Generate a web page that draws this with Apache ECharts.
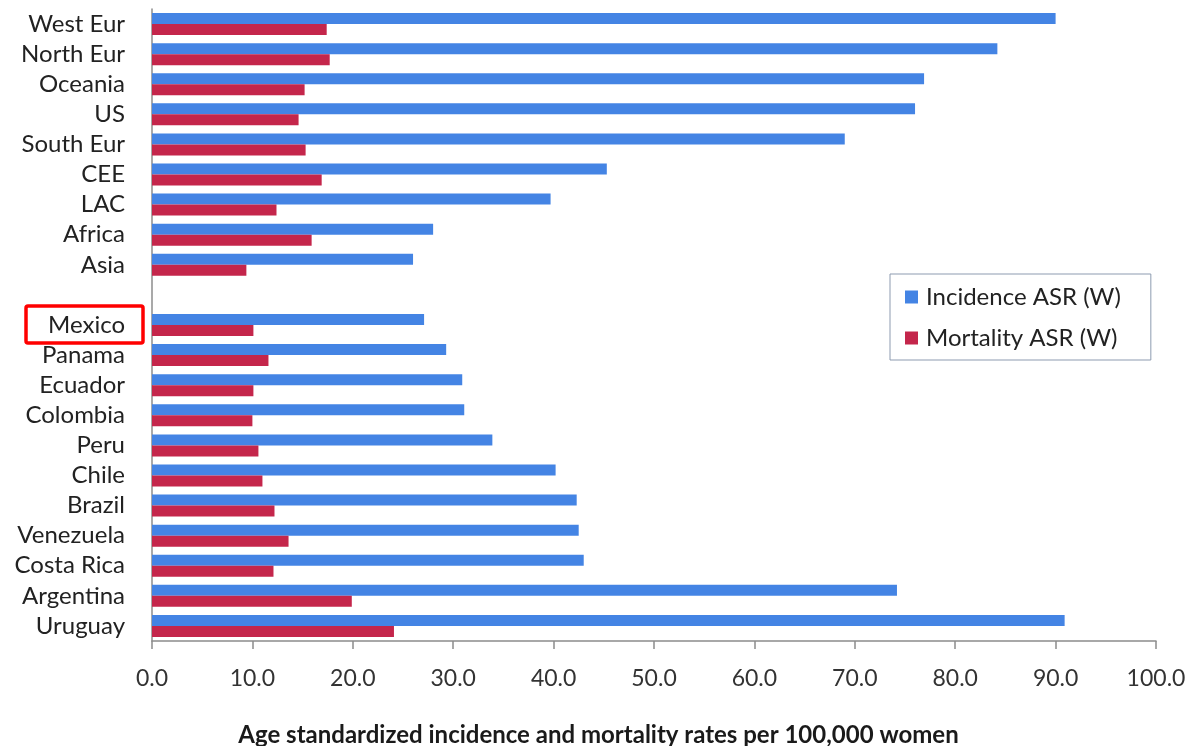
<!DOCTYPE html>
<html>
<head>
<meta charset="utf-8">
<script src="https://cdn.jsdelivr.net/npm/echarts@6/dist/echarts.min.js"></script>
<style>
  html, body { margin: 0; padding: 0; background: #ffffff; }
  #chart { width: 1197px; height: 746px; }
</style>
</head>
<body>
<div id="chart"></div>
<script>
// Regions / countries, top to bottom (blank row separates regions from countries)
const categories = [
  'West Eur', 'North Eur', 'Oceania', 'US', 'South Eur', 'CEE', 'LAC', 'Africa', 'Asia',
  '',
  'Mexico', 'Panama', 'Ecuador', 'Colombia', 'Peru', 'Chile', 'Brazil', 'Venezuela',
  'Costa Rica', 'Argentina', 'Uruguay'
];

// Age standardized incidence rate (world standard), per 100,000 women
const incidence = [
  90.0, 84.2, 76.9, 76.0, 69.0, 45.3, 39.7, 28.0, 26.0,
  null,
  27.1, 29.3, 30.9, 31.1, 33.9, 40.2, 42.3, 42.5, 43.0, 74.2, 90.9
];

// Age standardized mortality rate (world standard), per 100,000 women
const mortality = [
  17.4, 17.7, 15.2, 14.6, 15.3, 16.9, 12.4, 15.9, 9.4,
  null,
  10.1, 11.6, 10.1, 10.0, 10.6, 11.0, 12.2, 13.6, 12.1, 19.9, 24.1
];

const seriesNames = ['Incidence ASR (W)', 'Mortality ASR (W)'];
const xTicks = { min: 0, max: 100, interval: 10 };
const axisTitle = 'Age standardized incidence and mortality rates per 100,000 women';
const highlighted = 'Mexico';

const FONT = 'Lato, "Open Sans", sans-serif';
const BLUE = '#4484e4';
const RED = '#c4264b';

const chart = echarts.init(document.getElementById('chart'), null, { renderer: 'canvas' });

const option = {
  backgroundColor: '#ffffff',
  animation: false,
  textStyle: { fontFamily: FONT },
  title: {
    text: axisTitle,
    left: 'center',
    bottom: -6,
    textStyle: { fontFamily: FONT, fontSize: 24, fontWeight: 'bold', color: '#1a1a1a' }
  },
  legend: {
    orient: 'vertical',
    left: 890,
    top: 274,
    padding: [11, 30, 10, 15],
    itemGap: 17,
    itemWidth: 13,
    itemHeight: 13,
    icon: 'rect',
    borderColor: '#8d9bb0',
    borderWidth: 1,
    backgroundColor: '#ffffff',
    textStyle: { fontFamily: FONT, fontSize: 24, color: '#222222', padding: [0, 0, 0, 3] },
    data: seriesNames
  },
  grid: { left: 152, right: 41, top: 9, bottom: 105, containLabel: false },
  xAxis: {
    type: 'value',
    min: xTicks.min,
    max: xTicks.max,
    interval: xTicks.interval,
    axisLine: { show: true, lineStyle: { color: '#8c8c8c', width: 1.5 } },
    axisTick: { show: true, length: 8, lineStyle: { color: '#8c8c8c', width: 1.5 } },
    splitLine: { show: false },
    axisLabel: {
      margin: 26,
      fontFamily: FONT,
      fontSize: 23,
      color: '#333333',
      formatter: v => v.toFixed(1)
    }
  },
  yAxis: {
    type: 'category',
    data: categories,
    inverse: true,
    axisLine: { show: true, lineStyle: { color: '#8c8c8c', width: 1.5 } },
    axisTick: { show: false },
    splitLine: { show: false },
    axisLabel: {
      margin: 27,
      fontFamily: FONT,
      fontSize: 24,
      color: '#222222',
      interval: 0
    }
  },
  series: [
    {
      name: seriesNames[0],
      type: 'bar',
      data: incidence,
      barWidth: 11,
      barGap: '0%',
      itemStyle: { color: BLUE }
    },
    {
      name: seriesNames[1],
      type: 'bar',
      data: mortality,
      barWidth: 11,
      barGap: '0%',
      itemStyle: { color: RED }
    }
  ]
};

chart.setOption(option);

// Red frame around the highlighted country label, placed from the category axis
const rowY = chart.convertToPixel({ yAxisIndex: 0 }, highlighted);
chart.setOption({
  graphic: [{
    type: 'rect',
    shape: { x: 26, y: rowY - 19, width: 117, height: 37, r: 2 },
    style: { fill: 'none', stroke: '#ff0000', lineWidth: 3.5 },
    z: 10
  }]
});
</script>
</body>
</html>
